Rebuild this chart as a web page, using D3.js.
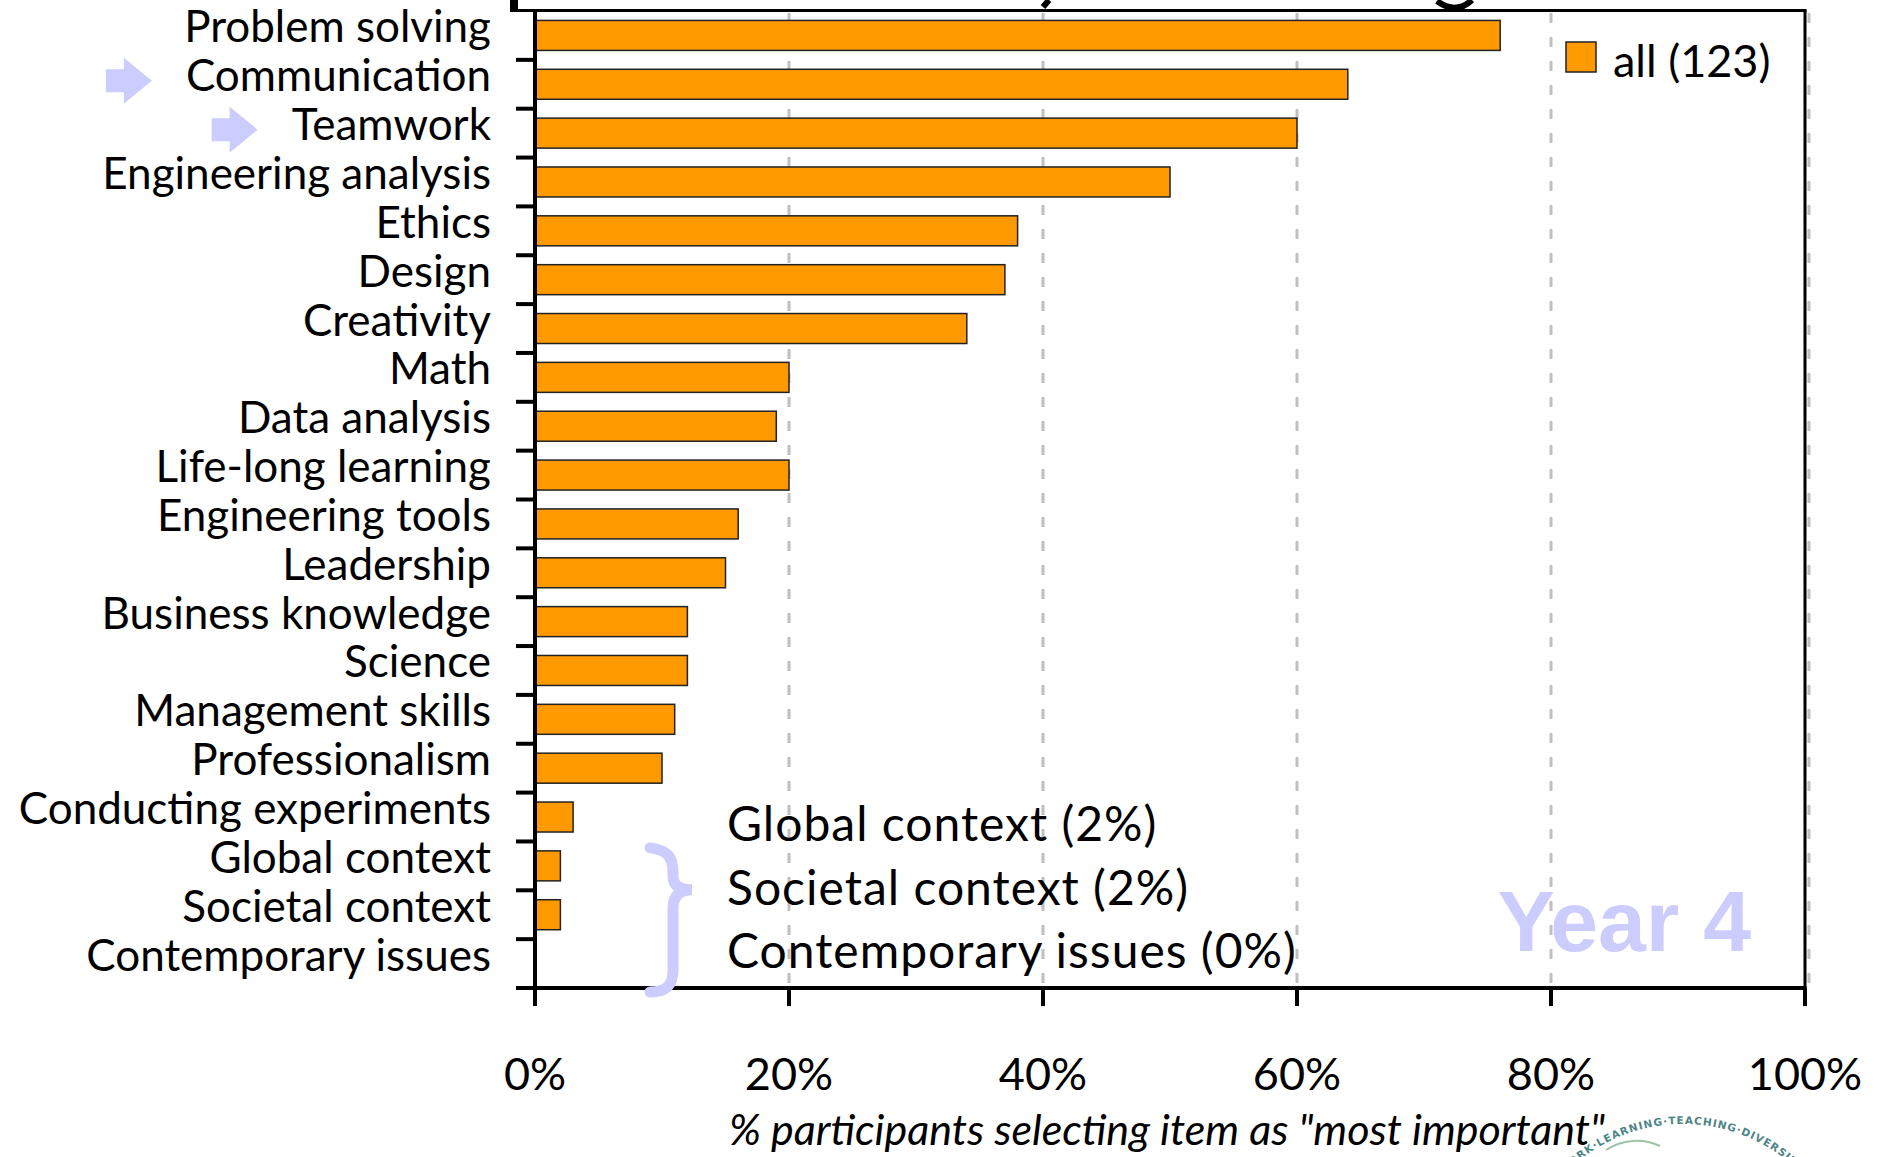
<!DOCTYPE html>
<html>
<head>
<meta charset="utf-8">
<script src="https://cdn.jsdelivr.net/npm/d3@7"></script>
<style>
  html, body { margin: 0; padding: 0; background: #fff; }
  svg { display: block; }
</style>
</head>
<body>
<script>
// ---------- data ----------
const categories = [
  "Problem solving", "Communication", "Teamwork", "Engineering analysis",
  "Ethics", "Design", "Creativity", "Math", "Data analysis",
  "Life-long learning", "Engineering tools", "Leadership",
  "Business knowledge", "Science", "Management skills", "Professionalism",
  "Conducting experiments", "Global context", "Societal context",
  "Contemporary issues"
];
const values = [76, 64, 60, 50, 38, 37, 34, 20, 19, 20, 16, 15, 12, 12, 11, 10, 3, 2, 2, 0];
const xTicks = [0, 20, 40, 60, 80, 100];
const seriesName = "all (123)";
const highlighted = ["Communication", "Teamwork"];
const notes = ["Global context (2%)", "Societal context (2%)", "Contemporary issues (0%)"];
const xTitle = "% participants selecting item as \"most important\"";
const watermark = "Year 4";
const sealText = "TEAMWORK\u00B7LEARNING\u00B7TEACHING\u00B7DIVERSITY\u00B7";

(function () {
// ---------- layout ----------
const W = 1878, H = 1157;
const pLeft = 535, pRight = 1805, pTop = 11, pBottom = 988;
const FONT = "Lato, 'Open Sans', sans-serif";
const ORANGE = "#ff9900";
const LAV = "#ccccff";

const svg = d3.select("body").append("svg")
  .attr("width", W).attr("height", H)
  .attr("viewBox", `0 0 ${W} ${H}`);
svg.append("rect").attr("width", W).attr("height", H).attr("fill", "#fff");

const x = d3.scaleLinear().domain([0, 100]).range([pLeft, pRight]);
const y = d3.scaleBand().domain(categories).range([pTop, pBottom])
  .paddingInner(0.386).paddingOuter(0.193);
const step = y.step();

// watermark
svg.append("text")
  .attr("x", 1751).attr("y", 951)
  .attr("text-anchor", "end")
  .attr("font-family", "'Liberation Sans', Arial, sans-serif")
  .attr("font-weight", "bold")
  .attr("font-size", 86)
  .attr("fill", LAV)
  .text(watermark);

// gridlines
svg.append("g").selectAll("line")
  .data(xTicks.filter(d => d > 0))
  .join("line")
  .attr("x1", d => x(d) + (d === 100 ? 4 : 0))
  .attr("x2", d => x(d) + (d === 100 ? 4 : 0))
  .attr("y1", pTop + 2).attr("y2", pBottom)
  .attr("stroke", "#c0c0c0").attr("stroke-width", 3)
  .attr("stroke-dasharray", "10,14");

// bars
svg.append("g").selectAll("rect")
  .data(categories.map((c, i) => ({ c, v: values[i] })).filter(d => d.v > 0))
  .join("rect")
  .attr("x", x(0))
  .attr("y", d => y(d.c))
  .attr("width", d => x(d.v) - x(0))
  .attr("height", y.bandwidth())
  .attr("fill", ORANGE)
  .attr("stroke", "#222").attr("stroke-width", 1.5);

// frame: top line + right border
svg.append("rect").attr("x", 510).attr("y", 0).attr("width", 8).attr("height", 11).attr("fill", "#000");
svg.append("line").attr("x1", 510).attr("x2", pRight + 1.5).attr("y1", 10.5).attr("y2", 10.5)
  .attr("stroke", "#000").attr("stroke-width", 3);
svg.append("line").attr("x1", pRight).attr("x2", pRight).attr("y1", 10).attr("y2", pBottom)
  .attr("stroke", "#000").attr("stroke-width", 3);

// title fragments (descenders of cut-off title)
svg.append("path").attr("d", "M1049,0 L1043,7").attr("stroke", "#000").attr("stroke-width", 6).attr("fill", "none");
svg.append("path").attr("d", "M1437,1 Q1456,15 1472,0").attr("stroke", "#000").attr("stroke-width", 6).attr("fill", "none");

// y axis
const yAxisG = svg.append("g");
yAxisG.append("line").attr("x1", pLeft).attr("x2", pLeft).attr("y1", pTop).attr("y2", pBottom + 18)
  .attr("stroke", "#000").attr("stroke-width", 4);
yAxisG.selectAll("line.tick")
  .data(categories)
  .join("line").attr("class", "tick")
  .attr("x1", pLeft - 19).attr("x2", pLeft)
  .attr("y1", d => y(d) + y.bandwidth() / 2 + step / 2)
  .attr("y2", d => y(d) + y.bandwidth() / 2 + step / 2)
  .attr("stroke", "#000").attr("stroke-width", 4);
const labels = yAxisG.selectAll("text")
  .data(categories)
  .join("text")
  .attr("x", 491)
  .attr("y", d => y(d) + y.bandwidth() / 2 + 7)
  .attr("text-anchor", "end")
  .attr("font-family", FONT)
  .attr("font-size", 44)
  .attr("fill", "#000")
  .text(d => d);

// x axis
const xAxisG = svg.append("g");
xAxisG.append("line").attr("x1", pLeft - 19).attr("x2", pRight + 1.5).attr("y1", pBottom).attr("y2", pBottom)
  .attr("stroke", "#000").attr("stroke-width", 4);
xAxisG.selectAll("line.tick")
  .data(xTicks)
  .join("line").attr("class", "tick")
  .attr("x1", d => x(d)).attr("x2", d => x(d))
  .attr("y1", pBottom).attr("y2", pBottom + 18)
  .attr("stroke", "#000").attr("stroke-width", 4);
xAxisG.selectAll("text")
  .data(xTicks)
  .join("text")
  .attr("x", d => x(d)).attr("y", 1090)
  .attr("text-anchor", "middle")
  .attr("font-family", FONT).attr("font-size", 45)
  .text(d => d + "%");
svg.append("text")
  .attr("x", (pLeft + pRight) / 2 - 3).attr("y", 1145)
  .attr("text-anchor", "middle")
  .attr("font-family", FONT).attr("font-style", "italic").attr("font-size", 43)
  .text(xTitle);

// legend
svg.append("rect").attr("x", 1566).attr("y", 42).attr("width", 30).attr("height", 30)
  .attr("fill", ORANGE).attr("stroke", "#222").attr("stroke-width", 1.5);
svg.append("text").attr("x", 1613).attr("y", 77)
  .attr("font-family", FONT).attr("font-size", 45).text(seriesName);

// highlight arrows next to labels
labels.filter(d => highlighted.includes(d)).each(function (d) {
  const bb = this.getBBox();
  const tipX = bb.x - 34;
  const cy = y(d) + y.bandwidth() / 2 - 3.5;
  const p = d3.path();
  p.moveTo(tipX - 46, cy - 11.5);
  p.lineTo(tipX - 28, cy - 11.5);
  p.lineTo(tipX - 28, cy - 23);
  p.lineTo(tipX, cy);
  p.lineTo(tipX - 28, cy + 23);
  p.lineTo(tipX - 28, cy + 11.5);
  p.lineTo(tipX - 46, cy + 11.5);
  p.closePath();
  svg.append("path").attr("d", p.toString()).attr("fill", LAV);
});

// brace
const bTop = y("Global context") - 3, bMid = y("Societal context") - 10, bBot = pBottom + 4;
svg.append("path")
  .attr("d", `M650,${bTop} C668,${bTop + 2} 673,${bTop + 10} 673,${bTop + 24} L673,${bMid - 14} C673,${bMid - 4} 680,${bMid} 692,${bMid} C680,${bMid} 673,${bMid + 6} 673,${bMid + 18} L673,${bBot - 22} C673,${bBot - 8} 668,${bBot} 650,${bBot}`)
  .attr("fill", "none").attr("stroke", LAV).attr("stroke-width", 11).attr("stroke-linecap", "round");

// notes
svg.append("g").selectAll("text")
  .data(notes)
  .join("text")
  .attr("x", 727)
  .attr("y", (d, i) => 841 + i * 63.5)
  .attr("font-family", FONT).attr("font-size", 48).attr("letter-spacing", 1)
  .text(d => d);

// seal logo (partially visible)
const seal = svg.append("g").attr("opacity", 0.85);
const scx = 1683, scy = 1290, sr = 166;
seal.append("path").attr("id", "sealArc")
  .attr("d", `M${scx - sr},${scy} A${sr},${sr} 0 0,1 ${scx + sr},${scy} A${sr},${sr} 0 0,1 ${scx - sr},${scy}`)
  .attr("fill", "none");
seal.append("text")
  .attr("font-family", "'DejaVu Sans', sans-serif").attr("font-weight", "bold")
  .attr("font-size", 10.5).attr("letter-spacing", 1).attr("fill", "#2f6f70")
  .append("textPath").attr("href", "#sealArc").attr("startOffset", 90)
  .text(sealText);
seal.append("path")
  .attr("d", `M1606,1150 A55,55 0 0,1 1660,1146`)
  .attr("fill", "none").attr("stroke", "#8fb89a").attr("stroke-width", 2);
})();
</script>
</body>
</html>
